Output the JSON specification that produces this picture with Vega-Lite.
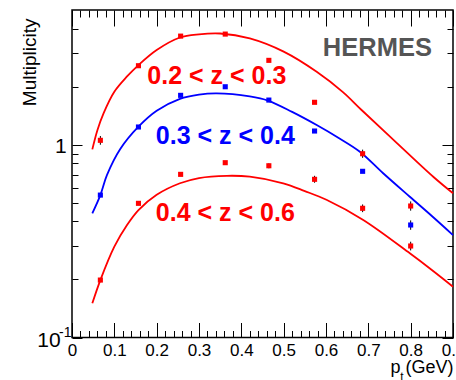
{
  "$schema": "https://vega.github.io/schema/vega-lite/v6.json",
  "width": 381,
  "height": 327.5,
  "autosize": "none",
  "padding": {"left": 72, "top": 10, "right": 3, "bottom": 42.5},
  "background": "white",
  "config": {
    "view": {"stroke": "#000", "strokeWidth": 1.5},
    "font": "Liberation Sans",
    "axis": {"grid": false, "domain": false, "tickColor": "#000", "tickWidth": 1, "labelColor": "#000", "titleColor": "#000", "labelFont": "Liberation Sans", "titleFont": "Liberation Sans", "titleFontWeight": "normal"}
  },
  "datasets": {
    "curves": [
      {"pt": 0.048, "mult": 0.946, "series": "0.2 < z < 0.3"},
      {"pt": 0.06, "mult": 1.19, "series": "0.2 < z < 0.3"},
      {"pt": 0.0745, "mult": 1.455, "series": "0.2 < z < 0.3"},
      {"pt": 0.1, "mult": 1.884, "series": "0.2 < z < 0.3"},
      {"pt": 0.13, "mult": 2.26, "series": "0.2 < z < 0.3"},
      {"pt": 0.157, "mult": 2.59, "series": "0.2 < z < 0.3"},
      {"pt": 0.2, "mult": 3.1, "series": "0.2 < z < 0.3"},
      {"pt": 0.255, "mult": 3.6, "series": "0.2 < z < 0.3"},
      {"pt": 0.3, "mult": 3.74, "series": "0.2 < z < 0.3"},
      {"pt": 0.35, "mult": 3.776, "series": "0.2 < z < 0.3"},
      {"pt": 0.42, "mult": 3.56, "series": "0.2 < z < 0.3"},
      {"pt": 0.5, "mult": 3.04, "series": "0.2 < z < 0.3"},
      {"pt": 0.578, "mult": 2.39, "series": "0.2 < z < 0.3"},
      {"pt": 0.64, "mult": 1.875, "series": "0.2 < z < 0.3"},
      {"pt": 0.684, "mult": 1.514, "series": "0.2 < z < 0.3"},
      {"pt": 0.76, "mult": 1.057, "series": "0.2 < z < 0.3"},
      {"pt": 0.854, "mult": 0.68, "series": "0.2 < z < 0.3"},
      {"pt": 0.9, "mult": 0.56, "series": "0.2 < z < 0.3"},
      {"pt": 0.048, "mult": 0.441, "series": "0.3 < z < 0.4"},
      {"pt": 0.067, "mult": 0.548, "series": "0.3 < z < 0.4"},
      {"pt": 0.0825, "mult": 0.695, "series": "0.3 < z < 0.4"},
      {"pt": 0.114, "mult": 0.95, "series": "0.3 < z < 0.4"},
      {"pt": 0.157, "mult": 1.24, "series": "0.3 < z < 0.4"},
      {"pt": 0.2, "mult": 1.5, "series": "0.3 < z < 0.4"},
      {"pt": 0.255, "mult": 1.73, "series": "0.3 < z < 0.4"},
      {"pt": 0.3, "mult": 1.82, "series": "0.3 < z < 0.4"},
      {"pt": 0.342, "mult": 1.847, "series": "0.3 < z < 0.4"},
      {"pt": 0.42, "mult": 1.78, "series": "0.3 < z < 0.4"},
      {"pt": 0.464, "mult": 1.69, "series": "0.3 < z < 0.4"},
      {"pt": 0.52, "mult": 1.48, "series": "0.3 < z < 0.4"},
      {"pt": 0.578, "mult": 1.265, "series": "0.3 < z < 0.4"},
      {"pt": 0.63, "mult": 1.084, "series": "0.3 < z < 0.4"},
      {"pt": 0.68, "mult": 0.92, "series": "0.3 < z < 0.4"},
      {"pt": 0.735, "mult": 0.711, "series": "0.3 < z < 0.4"},
      {"pt": 0.798, "mult": 0.537, "series": "0.3 < z < 0.4"},
      {"pt": 0.85, "mult": 0.427, "series": "0.3 < z < 0.4"},
      {"pt": 0.9, "mult": 0.34, "series": "0.3 < z < 0.4"},
      {"pt": 0.048, "mult": 0.1504, "series": "0.4 < z < 0.6"},
      {"pt": 0.067, "mult": 0.1986, "series": "0.4 < z < 0.6"},
      {"pt": 0.1, "mult": 0.296, "series": "0.4 < z < 0.6"},
      {"pt": 0.13, "mult": 0.383, "series": "0.4 < z < 0.6"},
      {"pt": 0.157, "mult": 0.458, "series": "0.4 < z < 0.6"},
      {"pt": 0.2, "mult": 0.55, "series": "0.4 < z < 0.6"},
      {"pt": 0.255, "mult": 0.631, "series": "0.4 < z < 0.6"},
      {"pt": 0.3, "mult": 0.672, "series": "0.4 < z < 0.6"},
      {"pt": 0.366, "mult": 0.69, "series": "0.4 < z < 0.6"},
      {"pt": 0.42, "mult": 0.683, "series": "0.4 < z < 0.6"},
      {"pt": 0.499, "mult": 0.631, "series": "0.4 < z < 0.6"},
      {"pt": 0.55, "mult": 0.575, "series": "0.4 < z < 0.6"},
      {"pt": 0.601, "mult": 0.518, "series": "0.4 < z < 0.6"},
      {"pt": 0.688, "mult": 0.407, "series": "0.4 < z < 0.6"},
      {"pt": 0.798, "mult": 0.2733, "series": "0.4 < z < 0.6"},
      {"pt": 0.85, "mult": 0.224, "series": "0.4 < z < 0.6"},
      {"pt": 0.9, "mult": 0.1834, "series": "0.4 < z < 0.6"}
    ],
    "points": [
      {"pt": 0.067, "mult": 1.054, "series": "0.2 < z < 0.3"},
      {"pt": 0.157, "mult": 2.57, "series": "0.2 < z < 0.3"},
      {"pt": 0.2566, "mult": 3.66, "series": "0.2 < z < 0.3"},
      {"pt": 0.362, "mult": 3.75, "series": "0.2 < z < 0.3"},
      {"pt": 0.465, "mult": 2.74, "series": "0.2 < z < 0.3"},
      {"pt": 0.573, "mult": 1.66, "series": "0.2 < z < 0.3"},
      {"pt": 0.6865, "mult": 0.898, "series": "0.2 < z < 0.3"},
      {"pt": 0.8, "mult": 0.481, "series": "0.2 < z < 0.3"},
      {"pt": 0.067, "mult": 0.548, "series": "0.3 < z < 0.4"},
      {"pt": 0.157, "mult": 1.236, "series": "0.3 < z < 0.4"},
      {"pt": 0.2566, "mult": 1.804, "series": "0.3 < z < 0.4"},
      {"pt": 0.362, "mult": 1.999, "series": "0.3 < z < 0.4"},
      {"pt": 0.465, "mult": 1.705, "series": "0.3 < z < 0.4"},
      {"pt": 0.573, "mult": 1.178, "series": "0.3 < z < 0.4"},
      {"pt": 0.6865, "mult": 0.728, "series": "0.3 < z < 0.4"},
      {"pt": 0.8, "mult": 0.3834, "series": "0.3 < z < 0.4"},
      {"pt": 0.067, "mult": 0.1986, "series": "0.4 < z < 0.6"},
      {"pt": 0.157, "mult": 0.4966, "series": "0.4 < z < 0.6"},
      {"pt": 0.2566, "mult": 0.702, "series": "0.4 < z < 0.6"},
      {"pt": 0.362, "mult": 0.807, "series": "0.4 < z < 0.6"},
      {"pt": 0.465, "mult": 0.778, "series": "0.4 < z < 0.6"},
      {"pt": 0.573, "mult": 0.6616, "series": "0.4 < z < 0.6"},
      {"pt": 0.6865, "mult": 0.468, "series": "0.4 < z < 0.6"},
      {"pt": 0.8, "mult": 0.2983, "series": "0.4 < z < 0.6"}
    ],
    "errors": [
      {"pt": 0.067, "lo": 1.0, "hi": 1.11},
      {"pt": 0.6865, "lo": 0.855, "hi": 0.943},
      {"pt": 0.8, "lo": 0.455, "hi": 0.508},
      {"pt": 0.8, "lo": 0.362, "hi": 0.405},
      {"pt": 0.465, "lo": 0.755, "hi": 0.8},
      {"pt": 0.573, "lo": 0.635, "hi": 0.69},
      {"pt": 0.6865, "lo": 0.447, "hi": 0.49},
      {"pt": 0.8, "lo": 0.283, "hi": 0.314}
    ],
    "labels": [
      {"pt": 0.178, "mult": 2.07, "label": "0.2 < z < 0.3", "series": "0.2 < z < 0.3"},
      {"pt": 0.198, "mult": 1.005, "label": "0.3 < z < 0.4", "series": "0.3 < z < 0.4"},
      {"pt": 0.198, "mult": 0.404, "label": "0.4 < z < 0.6", "series": "0.4 < z < 0.6"}
    ],
    "experiment": [
      {"pt": 0.5925, "mult": 2.88, "label": "HERMES"}
    ]
  },
  "layer": [
    {
      "data": {"name": "curves"},
      "mark": {"type": "line", "strokeWidth": 1.8, "interpolate": "catmull-rom"},
      "encoding": {
        "x": {
          "field": "pt", "type": "quantitative",
          "scale": {"domain": [0, 0.9], "nice": false, "zero": false},
          "axis": {
            "orient": "bottom",
            "values": [0, 0.02, 0.04, 0.06, 0.08, 0.1, 0.12, 0.14, 0.16, 0.18, 0.2, 0.22, 0.24, 0.26, 0.28, 0.3, 0.32, 0.34, 0.36, 0.38, 0.4, 0.42, 0.44, 0.46, 0.48, 0.5, 0.52, 0.54, 0.56, 0.58, 0.6, 0.62, 0.64, 0.66, 0.68, 0.7, 0.72, 0.74, 0.76, 0.78, 0.8, 0.82, 0.84, 0.86, 0.88, 0.9],
            "tickSize": {"condition": {"test": "abs(datum.value*10 - round(datum.value*10)) < 0.001", "value": -15}, "value": -7},
            "labelExpr": "abs(datum.value*10 - round(datum.value*10)) < 0.001 ? (datum.value == 0 ? '0' : format(datum.value, '.1f')) : ''",
            "labelFontSize": 17,
            "labelPadding": 19.5,
            "labelBaseline": "top",
            "labelOverlap": false,
            "labelFlush": false,
            "labelBound": false,
            "title": "p (GeV)",
            "titleFontSize": 18,
            "titleX": 381,
            "titleY": 34.5,
            "titleAlign": "right",
            "titleBaseline": "alphabetic"
          }
        },
        "y": {
          "field": "mult", "type": "quantitative",
          "scale": {"type": "log", "domain": [0.1, 5], "nice": false},
          "axis": {
            "orient": "left",
            "values": [0.1, 0.2, 0.3, 0.4, 0.5, 0.6, 0.7, 0.8, 0.9, 1, 2, 3, 4],
            "tickSize": {"condition": {"test": "datum.value == 1 || datum.value == 0.1", "value": -10}, "value": -6},
            "labelExpr": "datum.value == 1 ? '1' : (datum.value == 0.1 ? '10' : '')",
            "labelFontSize": 21,
            "labelPadding": {"condition": {"test": "datum.value == 0.1", "value": 21.8}, "value": 15.7},
            "labelOffset": {"condition": {"test": "datum.value == 0.1", "value": 3}, "value": 1.5},
            "labelOverlap": false,
            "labelFlush": false,
            "labelBound": false,
            "title": "Multiplicity",
            "titleFontSize": 19,
            "titleAngle": -90,
            "titleX": -43,
            "titleY": 8,
            "titleAlign": "right",
            "titleBaseline": "middle"
          }
        },
        "color": {
          "field": "series", "type": "nominal",
          "scale": {"domain": ["0.2 < z < 0.3", "0.3 < z < 0.4", "0.4 < z < 0.6"], "range": ["#ff0000", "#0000ff", "#ff0000"]},
          "legend": null
        }
      }
    },
    {
      "data": {"name": "errors"},
      "mark": {"type": "rule", "color": "#000", "strokeWidth": 1},
      "encoding": {
        "x": {
          "field": "pt", "type": "quantitative",
          "axis": {"orient": "bottom", "ticks": false, "labels": false, "domain": false, "title": "t", "titleFontSize": 12, "titleX": 329.5, "titleY": 42.5, "titleAlign": "center", "titleBaseline": "alphabetic"}
        },
        "y": {
          "field": "lo", "type": "quantitative",
          "axis": {"orient": "left", "values": [0.1], "labelExpr": "'-1'", "ticks": false, "domain": false, "labelFontSize": 14, "labelPadding": 1, "labelOffset": -4.8, "labelOverlap": false, "labelBound": false, "labelFlush": false, "title": null}
        },
        "y2": {"field": "hi"}
      }
    },
    {
      "data": {"name": "points"},
      "mark": {"type": "square", "size": 26, "filled": true, "opacity": 1},
      "encoding": {
        "x": {
          "field": "pt", "type": "quantitative",
          "axis": {
            "orient": "top",
            "values": [0, 0.02, 0.04, 0.06, 0.08, 0.1, 0.12, 0.14, 0.16, 0.18, 0.2, 0.22, 0.24, 0.26, 0.28, 0.3, 0.32, 0.34, 0.36, 0.38, 0.4, 0.42, 0.44, 0.46, 0.48, 0.5, 0.52, 0.54, 0.56, 0.58, 0.6, 0.62, 0.64, 0.66, 0.68, 0.7, 0.72, 0.74, 0.76, 0.78, 0.8, 0.82, 0.84, 0.86, 0.88, 0.9],
            "tickSize": {"condition": {"test": "abs(datum.value*10 - round(datum.value*10)) < 0.001", "value": -16}, "value": -7},
            "labels": false,
            "title": null
          }
        },
        "y": {
          "field": "mult", "type": "quantitative",
          "axis": {
            "orient": "right",
            "values": [0.1, 0.2, 0.3, 0.4, 0.5, 0.6, 0.7, 0.8, 0.9, 1, 2, 3, 4],
            "tickSize": {"condition": {"test": "datum.value == 1 || datum.value == 0.1", "value": -11}, "value": -6},
            "labels": false,
            "title": null
          }
        },
        "color": {"field": "series", "type": "nominal", "legend": null}
      }
    },
    {
      "data": {"name": "labels"},
      "mark": {"type": "text", "font": "Liberation Sans", "fontWeight": "bold", "fontSize": 25, "align": "left", "baseline": "alphabetic"},
      "encoding": {
        "x": {"field": "pt", "type": "quantitative", "axis": null},
        "y": {"field": "mult", "type": "quantitative", "axis": null},
        "text": {"field": "label"},
        "color": {"field": "series", "type": "nominal", "legend": null}
      }
    },
    {
      "data": {"name": "experiment"},
      "mark": {"type": "text", "font": "Liberation Sans", "fontWeight": "bold", "fontSize": 25.5, "align": "left", "baseline": "alphabetic", "color": "#555555"},
      "encoding": {
        "x": {"field": "pt", "type": "quantitative", "axis": null},
        "y": {"field": "mult", "type": "quantitative", "axis": null},
        "text": {"field": "label"}
      }
    }
  ],
  "resolve": {"axis": {"x": "independent", "y": "independent"}}
}
